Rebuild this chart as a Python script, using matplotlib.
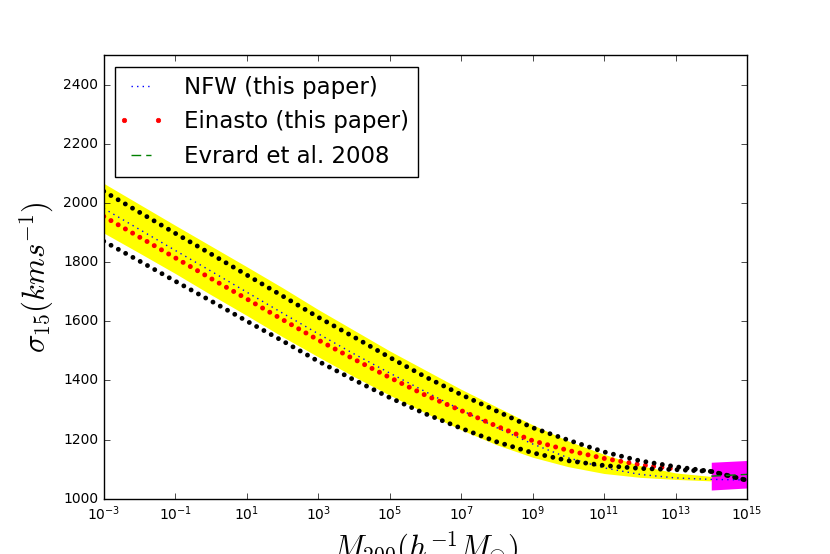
import matplotlib
matplotlib.use("Agg")
import matplotlib.pyplot as plt
from matplotlib.lines import Line2D
from matplotlib.legend_handler import HandlerLine2D
from matplotlib.ticker import NullLocator

# halo mass, one entry per decade (h^-1 Msun)
mass = [1e-3, 1e-2, 1e-1, 1e0, 1e1, 1e2, 1e3, 1e4, 1e5, 1e6,
        1e7, 1e8, 1e9, 1e10, 1e11, 1e12, 1e13, 1e14, 1e15]

# sigma_15 in km/s
nfw = [1982, 1911, 1840, 1770, 1699, 1628, 1558, 1490, 1425, 1362,
       1300, 1240, 1185, 1138, 1104, 1082, 1070, 1065, 1063]
einasto = [1955, 1885, 1815, 1745, 1676, 1606, 1537, 1472, 1410, 1350,
           1298, 1245, 1196, 1163, 1136, 1115, 1100]
upper_dots = [2040, 1969, 1898, 1828, 1757, 1686, 1614, 1547, 1478, 1412,
              1352, 1296, 1240, 1198, 1158, 1128, 1108, 1092, 1062]
lower_dots = [1871, 1804, 1736, 1669, 1601, 1534, 1465, 1402, 1342, 1287,
              1238, 1192, 1155, 1128, 1112, 1102, 1098, 1092, 1062]

# yellow band (1e-3 .. 1e14)
band_top = [2067, 1996, 1925, 1855, 1785, 1714, 1640, 1570, 1500, 1435,
            1370, 1310, 1250, 1195, 1150, 1112, 1087, 1075]
band_bottom = [1899, 1831, 1762, 1690, 1620, 1548, 1480, 1413, 1350, 1290,
               1233, 1182, 1140, 1108, 1085, 1072, 1065, 1060]

# Evrard et al. 2008 relation and its scatter
evrard_mass = [1e14, 1e15]
evrard = [1076, 1082]
evrard_high = [1123, 1129]
evrard_low = [1029, 1036]

xticks = [1e-3, 1e-1, 1e1, 1e3, 1e5, 1e7, 1e9, 1e11, 1e13, 1e15]
yticks = [1000, 1200, 1400, 1600, 1800, 2000, 2200, 2400]

plt.style.use("classic")
plt.rcParams["lines.scale_dashes"] = False

fig = plt.figure(figsize=(8.3, 5.54), dpi=100, facecolor="white")
ax = fig.add_subplot(111)
fig.subplots_adjust(left=0.125, right=0.9, bottom=0.1, top=0.9)

ax.fill_between(mass[:len(band_top)], band_bottom, band_top,
                color="yellow", lw=0)
ax.fill_between(evrard_mass, evrard_low, evrard_high, color="magenta", lw=0)

ax.plot(mass, nfw, ":", color="b", lw=1)

# big dots drawn as round-capped dotted lines
dots = (0, (0.001, 6.0))
ax.plot(mass[:len(einasto)], einasto, color="r", lw=3.6,
        linestyle=dots, dash_capstyle="round")
ax.plot(mass, upper_dots, color="k", lw=3.5,
        linestyle=dots, dash_capstyle="round")
ax.plot(mass, lower_dots, color="k", lw=3.5,
        linestyle=dots, dash_capstyle="round")

evr_dash = (0, (7, 3.6))
ax.plot(evrard_mass, evrard, color="g", lw=1, linestyle=evr_dash)

ax.set_xscale("log")
ax.set_xlim(1e-3, 1e15)
ax.set_ylim(1000, 2500)
ax.set_xticks(xticks)
ax.xaxis.set_minor_locator(NullLocator())
ax.set_yticks(yticks)
ax.tick_params(labelsize=10)

ax.set_xlabel(r"$M_{200}(h^{-1}M_{\odot})$", fontsize=22)
ax.set_ylabel(r"$\sigma_{15}(kms^{-1})$", fontsize=22)

h_nfw = Line2D([], [], ls=":", color="b", lw=1)
h_ein = Line2D([], [], ls="none", marker="o", color="r", mec="r", ms=3.2)
h_evr = Line2D([], [], ls=evr_dash, color="g", lw=1)
labels = ["NFW (this paper)", "Einasto (this paper)", "Evrard et al. 2008"]
ax.legend([h_nfw, h_ein, h_evr], labels, loc="upper left", numpoints=2,
          fontsize=16.5, handlelength=1.45, handletextpad=1.15,
          handler_map={h_ein: HandlerLine2D(marker_pad=0, numpoints=2)})

fig.savefig("out.png", dpi=100, facecolor="white")
